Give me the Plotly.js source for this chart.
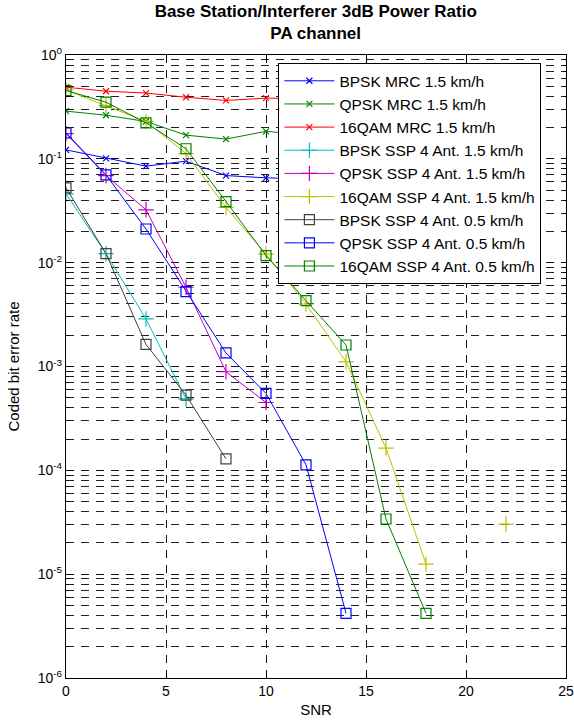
<!DOCTYPE html>
<html>
<head>
<meta charset="utf-8">
<script src="https://cdn.plot.ly/plotly-3.0.1.min.js"></script>
<style>html,body{margin:0;padding:0;background:#fff;}#chart{width:574px;height:725px;}</style>
</head>
<body>
<div id="chart"></div>
<script>
// ---- data ----
const snrMRC = [0, 2, 4, 6, 8, 10, 12];
const bpskMRC15 = [0.122, 0.101, 0.085, 0.095, 0.069, 0.0656, 0.064];
const qpskMRC15 = [0.288, 0.263, 0.229, 0.169, 0.155, 0.184, 0.17];
const qam16MRC15 = [0.49, 0.448, 0.43, 0.392, 0.365, 0.384, 0.38];

const snrBpskSSP15 = [0, 2, 4, 6];
const bpskSSP15 = [0.046, 0.0122, 0.00287, 0.000487];

const snrQpskSSP15 = [0, 2, 4, 6, 8, 10];
const qpskSSP15 = [0.175, 0.069, 0.0323, 0.0058, 0.00089, 0.00045];

const snrQamSSP15 = [0, 2, 4, 6, 8, 10, 12, 14, 16, 18, 20, 22];
const qamSSP15 = [0.46, 0.326, 0.229, 0.112, 0.034, 0.0121, 0.004, 0.00111, 0.000164, 0.0000125, null, 0.0000304];

const snrBpskSSP05 = [0, 2, 4, 6, 8];
const bpskSSP05 = [0.0525, 0.0122, 0.00163, 0.00053, 0.000129];

const snrQpskSSP05 = [0, 2, 4, 6, 8, 10, 12, 14];
const qpskSSP05 = [0.178, 0.070, 0.0211, 0.00527, 0.00135, 0.00055, 0.000113, 0.0000042];

const snrQamSSP05 = [0, 2, 4, 6, 8, 10, 12, 14, 16, 18];
const qamSSP05 = [0.455, 0.351, 0.222, 0.125, 0.0388, 0.0117, 0.0043, 0.00161, 0.000034, 0.0000042];

const seriesNames = [
  'BPSK MRC 1.5 km/h', 'QPSK MRC 1.5 km/h', '16QAM MRC 1.5 km/h',
  'BPSK SSP 4 Ant. 1.5 km/h', 'QPSK SSP 4 Ant. 1.5 km/h', '16QAM SSP 4 Ant. 1.5 km/h',
  'BPSK SSP 4 Ant. 0.5 km/h', 'QPSK SSP 4 Ant. 0.5 km/h', '16QAM SSP 4 Ant. 0.5 km/h'
];
const xTickVals = [0, 5, 10, 15, 20, 25];
const yTickVals = [1e-6, 1e-5, 1e-4, 1e-3, 1e-2, 1e-1, 1];
const yTickText = ['10<sup>-6</sup>', '10<sup>-5</sup>', '10<sup>-4</sup>', '10<sup>-3</sup>', '10<sup>-2</sup>', '10<sup>-1</sup>', '10<sup>0</sup>'];

// ---- styling ----
const colors = ['#0000ff', '#008000', '#ff0000', '#00bfbf', '#bf00bf', '#bfbf00', '#404040', '#0000ff', '#008000'];
const xs = [snrMRC, snrMRC, snrMRC, snrBpskSSP15, snrQpskSSP15, snrQamSSP15, snrBpskSSP05, snrQpskSSP05, snrQamSSP05];
const ys = [bpskMRC15, qpskMRC15, qam16MRC15, bpskSSP15, qpskSSP15, qamSSP15, bpskSSP05, qpskSSP05, qamSSP05];
const symbols = ['x-thin-open', 'x-thin-open', 'x-thin-open', 'cross-thin-open', 'cross-thin-open', 'cross-thin-open', 'square-open', 'square-open', 'square-open'];
const sizes = [6, 6, 6, 11, 11, 11, 10, 10, 10];

const traces = seriesNames.map((name, i) => ({
  x: xs[i], y: ys[i], name: name, type: 'scatter', mode: 'lines+markers',
  connectgaps: false,
  line: {color: colors[i], width: 1},
  marker: {symbol: symbols[i], size: sizes[i], color: colors[i], line: {color: colors[i], width: 1.2}}
}));

const font = {family: 'Liberation Sans, Arial, sans-serif', color: '#000'};
const gridDash = '8px,7px';

const layout = {
  width: 574, height: 725,
  margin: {l: 65.5, r: 8.3, t: 54.5, b: 47.3},
  paper_bgcolor: '#fff', plot_bgcolor: '#fff',
  font: Object.assign({size: 13}, font),
  title: {
    text: '<b>Base Station/Interferer 3dB Power Ratio</b><br><b>PA channel</b>',
    font: Object.assign({size: 17}, font),
    x: 0.55, xanchor: 'center', xref: 'container',
    y: 0.977, yanchor: 'top', yref: 'container'
  },
  xaxis: {
    range: [0, 25], tickvals: xTickVals, ticktext: xTickVals.map(String),
    ticks: 'inside', ticklen: 5, tickcolor: '#000', mirror: 'allticks',
    showline: true, linecolor: '#000', linewidth: 1.2,
    showgrid: true, gridcolor: '#111', griddash: gridDash, gridwidth: 1,
    zeroline: false,
    tickfont: Object.assign({size: 14}, font),
    title: {text: 'SNR', font: Object.assign({size: 15}, font), standoff: 6}
  },
  yaxis: {
    type: 'log', range: [-6, 0], tickvals: yTickVals, ticktext: yTickText,
    ticks: 'inside', ticklen: 5, tickcolor: '#000', mirror: 'allticks',
    showline: true, linecolor: '#000', linewidth: 1.2,
    showgrid: true, gridcolor: '#111', griddash: gridDash, gridwidth: 1,
    zeroline: false,
    minor: {dtick: 'D1', showgrid: true, gridcolor: '#222', griddash: gridDash, gridwidth: 1, ticks: 'inside', ticklen: 3, tickcolor: '#000'},
    tickfont: Object.assign({size: 14}, font),
    title: {text: 'Coded bit error rate', font: Object.assign({size: 15}, font), standoff: 14}
  },
  legend: {
    x: 0.4248, y: 0.9868, xanchor: 'left', yanchor: 'top',
    bgcolor: '#fff', bordercolor: '#000', borderwidth: 1,
    font: Object.assign({size: 15.5}, font),
    itemwidth: 50
  },
  showlegend: true
};

Plotly.newPlot('chart', traces, layout, {displayModeBar: false, staticPlot: true});
</script>
</body>
</html>
